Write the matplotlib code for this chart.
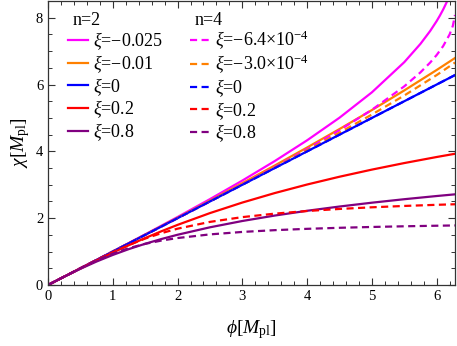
import matplotlib
matplotlib.use("Agg")
import matplotlib.pyplot as plt
from matplotlib.ticker import MultipleLocator

# values
phi = [0, 0.25, 0.5, 0.75, 1, 1.25, 1.5, 1.75, 2, 2.5, 3, 3.5, 4, 4.5, 5, 5.5, 6, 6.283]

# n = 2
phi_a = [0, 0.5, 1, 1.5, 2, 2.5, 3, 3.5, 4, 4.5, 5, 5.5, 5.75, 5.9, 6, 6.05, 6.1, 6.15, 6.2]
chi2_m0025 = [0, 0.5005, 1.0042, 1.5144, 2.0349, 2.5701, 3.1257, 3.7089, 4.3305, 5.0069,
              5.7664, 6.6689, 7.2180, 7.6040, 7.8998, 8.0643, 8.244, 8.445, 8.677]
chi2_m001 = [0, 0.25003, 0.50021, 0.75070, 1.00167, 1.25328, 1.50568, 1.75905, 2.01358, 2.5268,
             3.0469, 3.5757, 4.1152, 4.6677, 5.2360, 5.8236, 6.4350, 6.7936]
chi2_0 = [0, 0.25, 0.5, 0.75, 1, 1.25, 1.5, 1.75, 2, 2.5, 3, 3.5, 4, 4.5, 5, 5.5, 6, 6.283]
chi2_02 = [0, 0.24948, 0.4960, 0.73661, 0.9695, 1.19264, 1.4056, 1.60783, 1.7994, 2.1521,
           2.4677, 2.7513, 3.0076, 3.2405, 3.4536, 3.6496, 3.8309, 3.9277]
chi2_08 = [0, 0.24800, 0.4847, 0.70278, 0.8997, 1.07602, 1.2339, 1.37566, 1.5038, 1.7268,
           1.9155, 2.0783, 2.2214, 2.3487, 2.4634, 2.5676, 2.6630, 2.7137]

# n = 4
phi_b = [0, 0.5, 1, 1.5, 2, 2.5, 3, 3.5, 4, 4.5, 5, 5.5, 5.75, 5.9, 6, 6.1, 6.2, 6.25, 6.283]
chi4_m64 = [0, 0.5000, 1.0001, 1.5005, 2.0021, 2.5063, 3.0159, 3.5350, 4.0705, 4.6334,
            5.2440, 5.9461, 6.3647, 6.6581, 6.8834, 7.1497, 7.4997, 7.7585, 8.0807]
chi4_m30 = [0, 0.25, 0.5, 0.75001, 1.00003, 1.25009, 1.50023, 1.75049, 2.00096, 2.50294,
            3.00737, 3.51606, 4.03175, 4.55842, 5.10198, 5.67162, 6.28265, 6.6568]
chi4_0 = [0, 0.25, 0.5, 0.75, 1, 1.25, 1.5, 1.75, 2, 2.5, 3, 3.5, 4, 4.5, 5, 5.5, 6, 6.283]
chi4_02 = [0, 0.24998, 0.49938, 0.74537, 0.98150, 1.19874, 1.38953, 1.55118, 1.68552, 1.88896,
           2.03162, 2.13572, 2.21456, 2.27620, 2.32564, 2.36616, 2.39996, 2.41672]
chi4_08 = [0, 0.24992, 0.49755, 0.73277, 0.93856, 1.10421, 1.23183, 1.32964, 1.40566, 1.51464,
           1.58834, 1.64127, 1.68107, 1.71206, 1.73688, 1.75719, 1.77412, 1.78251]

labels2 = [r"$\xi$=−0.025", r"$\xi$=−0.01", r"$\xi$=0", r"$\xi$=0.2", r"$\xi$=0.8"]
labels4 = [r"$\xi$=−6.4×10$^{-4}$", r"$\xi$=−3.0×10$^{-4}$", r"$\xi$=0", r"$\xi$=0.2", r"$\xi$=0.8"]
colors = ["#FF00FF", "#FF8000", "#0000FF", "#FF0000", "#800080"]

plt.rcParams["font.family"] = ["Liberation Serif", "DejaVu Serif"]
plt.rcParams["mathtext.fontset"] = "custom"
plt.rcParams["mathtext.rm"] = "Liberation Serif"
plt.rcParams["mathtext.it"] = "Liberation Serif:italic"
plt.rcParams["mathtext.bf"] = "Liberation Serif:bold"
plt.rcParams["font.size"] = 10.5

fig = plt.figure(figsize=(4.57, 3.46), dpi=100)
ax = fig.add_axes([48 / 457, 61 / 346, 407 / 457, 284 / 346])

xs2 = [phi_a, phi, phi, phi, phi]
ys2 = [chi2_m0025, chi2_m001, chi2_0, chi2_02, chi2_08]
xs4 = [phi_b, phi, phi, phi, phi]
ys4 = [chi4_m64, chi4_m30, chi4_0, chi4_02, chi4_08]

handles = []
for x, y, c, lab in zip(xs2, ys2, colors, labels2):
    h, = ax.plot(x, y, color=c, lw=1.6, label=lab)
    handles.append(h)
for x, y, c, lab in zip(xs4, ys4, colors, labels4):
    h, = ax.plot(x, y, color=c, lw=1.6, ls=(0, (3.2, 2.0)), label=lab)
    handles.append(h)

ax.set_xlim(0, 6.283)
ax.set_ylim(0, 8.5)
ax.xaxis.set_major_locator(MultipleLocator(1))
ax.xaxis.set_minor_locator(MultipleLocator(0.2))
ax.yaxis.set_major_locator(MultipleLocator(2))
ax.yaxis.set_minor_locator(MultipleLocator(0.5))
ax.tick_params(which="both", direction="in", top=True, right=True, colors="#333333",
               labelcolor="black")
ax.tick_params(which="major", length=5, width=0.8)
ax.tick_params(which="minor", length=2.8, width=0.7)
for s in ax.spines.values():
    s.set_color("#333333")
    s.set_linewidth(0.9)

ax.set_xlabel(r"$\phi[M_{\rm pl}]$", fontsize=14, labelpad=11)
ax.set_ylabel(r"$\chi[M_{\rm pl}]$", fontsize=14, labelpad=3)

ax.legend(handles=handles, ncol=2, loc="upper left", bbox_to_anchor=(0.049, 0.9),
          frameon=False, borderaxespad=0, borderpad=0, handlelength=1.1,
          handletextpad=0.3, labelspacing=0.05, columnspacing=1.5, fontsize=13)
ax.text(0.061, 0.93, "n=2", transform=ax.transAxes, ha="left", va="center", fontsize=13)
ax.text(0.361, 0.93, "n=4", transform=ax.transAxes, ha="left", va="center", fontsize=13)

fig.savefig("out.png", dpi=100)
